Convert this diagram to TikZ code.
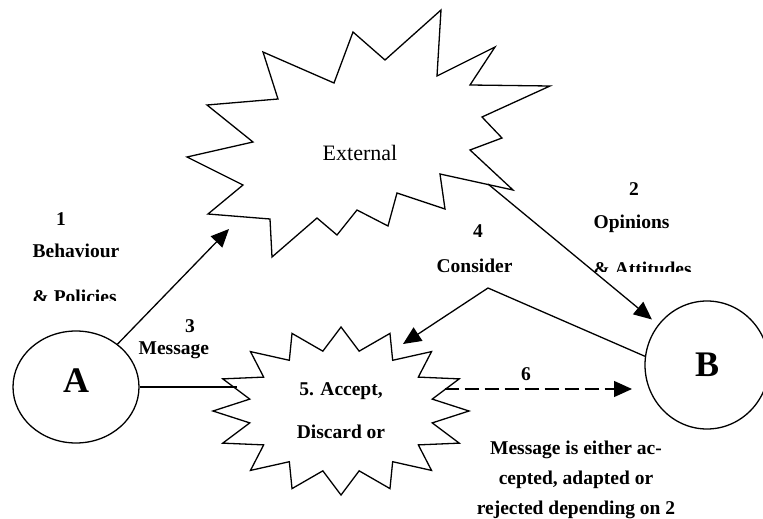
\documentclass[tikz,border=0pt]{standalone}
\usepackage{fontspec}
\setmainfont{Liberation Serif}
\usetikzlibrary{arrows.meta,shapes.geometric}

\begin{document}
\begin{tikzpicture}[x=1pt,y=-1pt,>={Triangle[length=18pt,width=16pt]},line width=1.3pt,
  party/.style={draw,ellipse,inner sep=0pt,font=\fontsize{36}{36}\selectfont\bfseries},
  lbl/.style={inner sep=0pt,font=\fontsize{19.5}{30}\selectfont\bfseries}]

  \useasboundingbox (0,0) rectangle (763,519);

  \node[party,minimum width=126pt,minimum height=112pt] (A) at (76,387) {\raisebox{12pt}{A}};
  \node[party,minimum width=124pt,minimum height=128pt] (B) at (707,365) {B};

  % external influences
  \draw (441,10) -- (437,76) -- (495,47) -- (470,85) -- (550,86) -- (482,117) -- (502,138)
    -- (470,150) -- (513,190) -- (440,174) -- (445,209) -- (397,193) -- (388,226) -- (357,210)
    -- (337,235) -- (317,218) -- (272,257) -- (270,219) -- (208,214) -- (243,185) -- (187,157)
    -- (253,142) -- (207,105) -- (278,99) -- (263,52) -- (334,83) -- (353,32) -- (385,60) -- cycle;
  \node[inner sep=0pt,font=\fontsize{22}{22}\selectfont,anchor=base] (ext) at (360,160) {External};

  % decision on the message
  \node[ellipse,inner sep=0pt,minimum width=206pt,minimum height=132pt,align=center,
    font=\fontsize{19.5}{43}\selectfont\bfseries] (acc) at (341,411) {5. Accept,\\Discard or};
  \draw[shift={(acc.center)}] (0:128 and 84)
    \foreach \a in {0,22.5,...,337.5} {-- (\a+11.25:93 and 61) -- (\a+22.5:128 and 84)} -- cycle;

  \coordinate (extin) at (229,229);
  \coordinate (extout) at (488,184);
  \coordinate (cons) at (488,288);
  \coordinate (accin) at (403,344);
  \coordinate (Bin) at (632,389);

  \draw[->] (A) -- (extin);
  \draw[->,shorten >=8pt] (extout) -- (B);
  \draw[->] (B.172) -- (cons) -- (accin);
  \draw (A.east) -- (A.east -| acc.west);
  \draw[->,dash pattern=on 14pt off 6pt] (acc.east |- Bin) -- (Bin);

  % labels
  \node[lbl,anchor=base] (n1) at (61,225) {1};
  \node[lbl,anchor=base west] (beh) at (32,257) {Behaviour};
  \node[lbl,anchor=base] (n2) at (634,195) {2};
  \node[lbl,anchor=base west] (opi) at (593,228) {Opinions};
  \begin{scope}
    \clip (0,0) rectangle (300,300);
    \node[lbl,anchor=base west] (pol) at (32,303) {\& Policies};
  \end{scope}
  \begin{scope}
    \clip (560,0) rectangle (763,271);
    \node[lbl,anchor=base west] (att) at (593,275) {\& Attitudes};
  \end{scope}
  \node[lbl,anchor=base] (n4) at (478,237) {4};
  \node[lbl,anchor=base west] (con) at (436,272) {Consider};
  \node[lbl,anchor=base] (n3) at (190,332) {3};
  \node[lbl,anchor=base west] (msg) at (138,354) {Message};
  \node[lbl,anchor=base] (n6) at (526,380) {6};
  \node[lbl,align=center,anchor=north] (note) at (576,440)
    {Message is either ac-\\cepted, adapted or\\rejected depending on 2};
\end{tikzpicture}
\end{document}
